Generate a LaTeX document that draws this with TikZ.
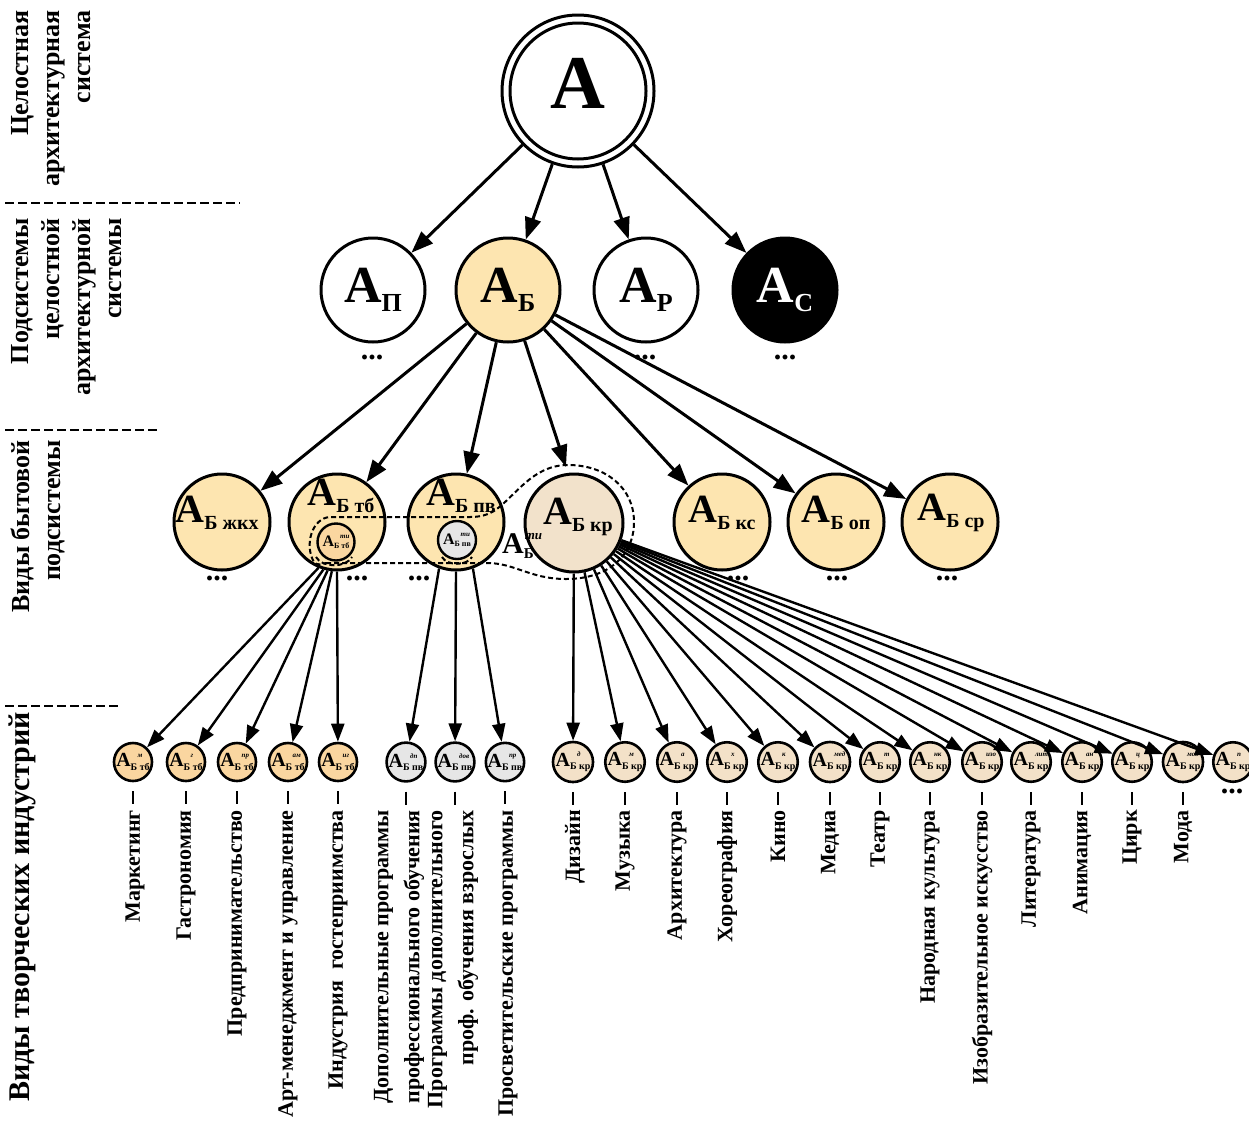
\documentclass[tikz,border=0pt]{standalone}
\usepackage{fontspec}
\setmainfont{Liberation Serif}
\usetikzlibrary{arrows.meta}
\definecolor{orL}{RGB}{253,229,176}
\definecolor{krF}{RGB}{242,226,203}
\definecolor{tbS}{RGB}{250,214,160}
\definecolor{pvS}{RGB}{230,230,230}
\definecolor{krS}{RGB}{243,225,200}
% A with subscript and optional superscript
\newcommand{\Asym}[6]{{\fontsize{#1}{#1}\selectfont\bfseries А\rlap{\kern#6pt\raisebox{0.48em}{\fontsize{#4}{#4}\selectfont\itshape #5}}\raisebox{-0.16em}{\fontsize{#2}{#2}\selectfont #3}}}
\newcommand{\Asub}[3]{{\fontsize{#1}{#1}\selectfont\bfseries А\raisebox{-0.17em}{\fontsize{#2}{#2}\selectfont #3}}}
\begin{document}
\begin{tikzpicture}[x=1pt,y=-1pt,
  arr/.style={line width=3pt,-{Triangle[length=22pt,width=16pt]}},
  arrf/.style={line width=2.4pt,-{Triangle[length=18pt,width=13pt]}},
  ctop/.style={circle,draw,line width=3pt,inner sep=0pt},
  c2/.style={circle,draw,line width=3pt,minimum size=104pt,inner sep=0pt},
  c3/.style={circle,draw,line width=3pt,minimum size=96pt,inner sep=0pt,fill=orL},
  c4/.style={circle,draw,line width=2.6pt,minimum size=38pt,inner sep=0pt},
  lab/.style={rotate=90,anchor=east,font=\fontsize{22}{31}\selectfont\bfseries,align=right,inner sep=0pt},
  side/.style={rotate=90,anchor=north east,font=\fontsize{26}{31}\selectfont\bfseries,align=right,inner sep=0pt},
  sep/.style={line width=2.5pt,dash pattern=on 9pt off 4pt},
  reg/.style={line width=2pt,dash pattern=on 5pt off 3pt},
  dots/.style={font=\fontsize{30}{30}\selectfont\bfseries,inner sep=0pt},
  tick/.style={line width=1.6pt}]
\useasboundingbox[fill=white] (0,0) rectangle (1249,1130);

% ---- left column
\node[side] (s1) at (11,10) {Целостная\\архитектурная\\система};
\node[side] (s2) at (11,218) {Подсистемы\\целостной\\архитектурной\\системы};
\node[side] (s3) at (11,440) {Виды бытовой\\подсистемы};
\node[side,font=\fontsize{30}{34}\selectfont\bfseries] (s4) at (9,712) {Виды творческих индустрий};
\coordinate (q1a) at (5,203); \coordinate (q1b) at (240,203);
\coordinate (q2a) at (5,430); \coordinate (q2b) at (157,430);
\coordinate (q3a) at (5,706); \coordinate (q3b) at (118,706);
\draw[sep] (q1a) -- (q1b);
\draw[sep] (q2a) -- (q2b);
\draw[sep] (q3a) -- (q3b);

% ---- level 1
\node[ctop,minimum size=152pt] (A) at (578,91) {};
\node[ctop,minimum size=136pt] (Ai) at (578,91) {};
\node[inner sep=0pt] (At) at (578,83) {\fontsize{76}{76}\selectfont\bfseries А};

% ---- level 2
\node[c2] (AP) at (373,290) {\Asub{52}{26}{П}};
\node[c2,fill=orL] (AB) at (508,290) {\Asub{52}{26}{Б}};
\node[c2] (AR) at (646,290) {\Asub{52}{26}{Р}};
\node[c2,fill=black,text=white] (AC) at (785,290) {\Asub{52}{26}{С}};
\node[dots] (dP) at (372,357) {...};
\node[dots] (dR) at (645,357) {...};
\node[dots] (dC) at (785,357) {...};
\foreach \n in {AP,AB,AR,AC} \draw[arr] (A) -- (\n);

% ---- level 3
\node[c3] (zh) at (222,522) {};
\node[c3] (tb) at (337,522) {};
\node[c3] (pv) at (456,522) {};
\node[c3,fill=krF,minimum size=98pt] (kr) at (574,523) {};
\node[c3] (ks) at (722,522) {};
\node[c3] (op) at (836,522) {};
\node[c3] (sr) at (950,522) {};
\node[inner sep=0pt] (zhT) at (217,513) {\Asub{40}{20}{Б жкх}};
\node[inner sep=0pt] (tbT) at (341,496) {\Asub{40}{20}{Б тб}};
\node[inner sep=0pt] (pvT) at (461,496) {\Asub{40}{20}{Б пв}};
\node[inner sep=0pt] (krT) at (578,517) {\Asub{40}{20}{Б кр}};
\node[inner sep=0pt] (ksT) at (722,513) {\Asub{40}{20}{Б кс}};
\node[inner sep=0pt] (opT) at (836,513) {\Asub{40}{20}{Б оп}};
\node[inner sep=0pt] (srT) at (951,513) {\Asub{40}{20}{Б ср}};
\node[c4,line width=2.4pt,fill=tbS,minimum size=37pt] (tbti) at (336,542) {\Asym{16}{8}{Б тб}{7}{ти}{6}};
\node[c4,line width=2.4pt,fill=pvS,minimum size=38pt] (pvti) at (457,540) {\Asym{16}{8}{Б пв}{7}{ти}{6}};
\node[dots] (dzh) at (217,578) {...};
\node[dots] (dtb) at (357,578) {...};
\node[dots] (dpv) at (419,578) {...};
\node[dots] (dks) at (738,578) {...};
\node[dots] (dop) at (837,578) {...};
\node[dots] (dsr) at (947,578) {...};

% dashed region of creative industries
\draw[reg] (326,563) -- (487,563) .. controls (515,563) and (530,579) .. (566,579)
  .. controls (608,579) and (634,556) .. (634,522) .. controls (634,488) and (606,465) .. (568,465)
  .. controls (532,465) and (515,497) .. (494,511) .. controls (487,515) and (480,517) .. (470,517)
  -- (330,517) .. controls (312,518) and (304,545) .. (314,562) .. controls (317,566) and (322,564) .. (326,563);
\draw[reg] (316,557) .. controls (322,568) and (346,568) .. (352,557);
\draw[reg] (442,557) .. controls (447,566) and (467,566) .. (472,557);
\node[inner sep=0pt] (tiL) at (518,546) {\Asym{30}{15}{Б}{13}{ти}{1}};
\coordinate (krtop) at (566,467);

\foreach \n in {zh,tb,pv,ks,op,sr} \draw[arr] (AB) -- (\n);
\draw[arr] (AB) -- (krtop);

% ---- level 4
\foreach \x/\s [count=\i] in {133/м,186/г,237/пр,288/ам,338/иг} {
  \node[c4,fill=tbS] (t\i) at (\x,762) {\Asym{20}{10}{Б тб}{7}{\s}{7}};
  \draw[tick] ([yshift=-9pt]t\i.south) -- ++(0,13);
}
\foreach \x/\s [count=\i] in {406/дп,455/дов,505/пр} {
  \node[c4,fill=pvS] (v\i) at (\x,762) {\Asym{20}{10}{Б пв}{7}{\s}{7}};
  \draw[tick] ([yshift=-9pt]v\i.south) -- ++(0,13);
}
\foreach \x/\s [count=\i] in {573/д,625/м,677/а,727/х,778/к,830/мед,880/т,930/нк,982/изо,1031/лит,1082/ан,1132/ц,1183/мод,1233/п} {
  \node[c4,fill=krS] (k\i) at (\x,762) {\Asym{20}{10}{Б кр}{7}{\s}{7}};
}
\foreach \i in {1,...,13} \draw[tick] ([yshift=-9pt]k\i.south) -- ++(0,13);
\node[dots] (dk) at (1232,791) {...};

\foreach \i/\a in {1/248,2/254,3/259,4/264,5/270} \draw[arrf] (tb.\a) -- (t\i);
\foreach \i/\a in {1/250,2/270,3/290} \draw[arrf] (pv.\a) -- (v\i);
\foreach \i in {1,...,14} \draw[arrf] (kr) -- (k\i);

% ---- labels
\foreach \x/\t [count=\i] in {135/Маркетинг,186/Гастрономия,237/Предпринимательство,288/Арт-менеджмент и управление,338/{Индустрия\hspace{0.25em} гостеприимства},399/{Дополнительные программы\\профессионального обучения},453/{Программы дополнительного\\проф. обучения взрослых},508/Просветительские программы,575/Дизайн,625/Музыка,677/Архитектура,727/Хореография,778/Кино,830/Медиа,880/Театр,930/Народная культура,982/Изобразительное искусство,1031/Литература,1082/Анимация,1132/Цирк,1183/Мода}
  \node[lab] (L\i) at (\x,810) {\t};
\end{tikzpicture}
\end{document}
